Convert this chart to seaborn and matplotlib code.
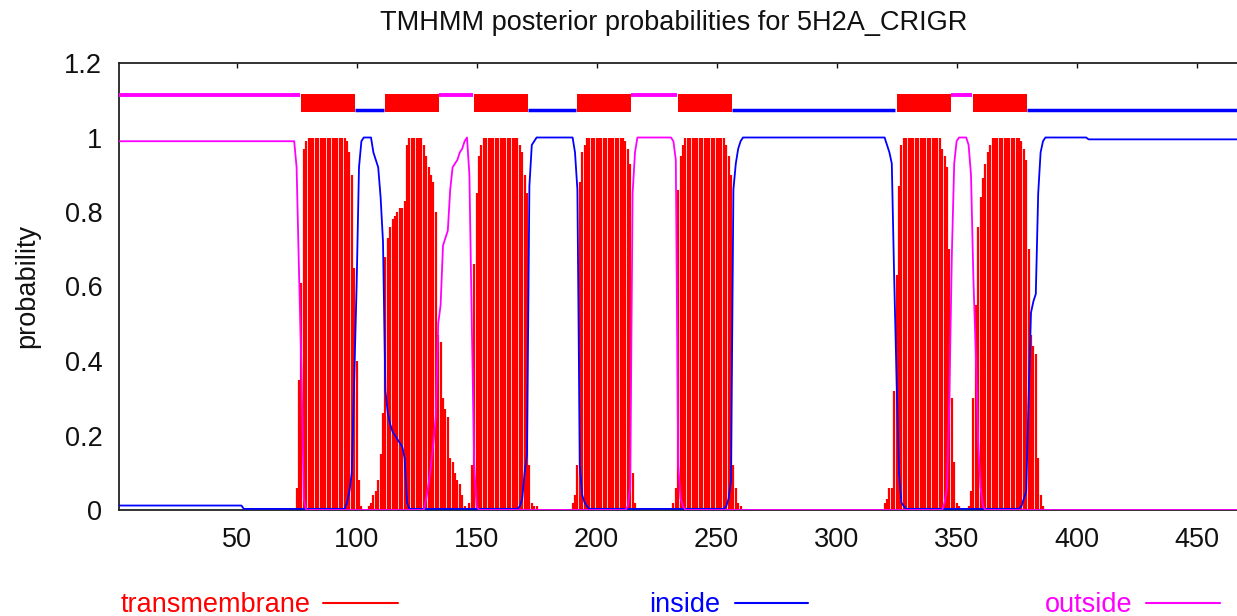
# TMHMM posterior probability plot (5H2A_CRIGR)

import numpy as np
import pandas as pd
import matplotlib
matplotlib.use("Agg")
import matplotlib.pyplot as plt
from matplotlib.lines import Line2D
import seaborn as sns

sns.set_style("white")
plt.rcParams['font.family'] = ['Liberation Sans', 'DejaVu Sans']

# Data (per residue; long flat runs written as repeats)

seq_length = 471

tm_prob = ([0.0]*74 +
           [0.06, 0.35, 0.61, 0.97, 0.99] +
           [1.0]*16 +
           [0.99, 0.96, 0.90, 0.65, 0.40, 0.08, 0.01] +
           [0.0]*2 +
           [0.01, 0.02, 0.04, 0.05, 0.08, 0.15, 0.26, 0.68, 0.73, 0.76, 0.78,
            0.79, 0.80, 0.81, 0.81, 0.83, 0.98] +
           [1.0]*6 +
           [0.98, 0.95, 0.92, 0.90, 0.88, 0.80, 0.47, 0.45, 0.30, 0.27, 0.25,
            0.14, 0.13, 0.10, 0.08, 0.07, 0.04, 0.01] +
           [0.0, 0.02, 0.12, 0.66, 0.85, 0.95, 0.98] +
           [1.0]*15 +
           [0.98, 0.96, 0.90, 0.85, 0.12, 0.02, 0.01, 0.01] +
           [0.0]*14 +
           [0.02, 0.04, 0.12, 0.88, 0.96, 0.98] +
           [1.0]*16 +
           [0.99, 0.97, 0.93, 0.10, 0.02] +
           [0.0]*15 +
           [0.02, 0.06, 0.86, 0.95, 0.98] +
           [1.0]*17 +
           [0.98, 0.95, 0.90, 0.12, 0.06, 0.02, 0.01] +
           [0.0]*59 +
           [0.02, 0.03, 0.06, 0.06, 0.32, 0.63, 0.87, 0.98] +
           [1.0]*16 +
           [0.97, 0.95, 0.92, 0.70, 0.30, 0.13, 0.02, 0.01] +
           [0.0]*3 +
           [0.01, 0.05, 0.30, 0.55, 0.76, 0.84, 0.89, 0.93, 0.96, 0.98] +
           [1.0]*12 +
           [0.99, 0.97, 0.94, 0.70, 0.47, 0.44, 0.42, 0.14, 0.04, 0.01] +
           [0.0]*85)

inside_prob = ([0.012]*52 +
               [0.003]*43 +
               [0.02, 0.05, 0.10, 0.35, 0.60, 0.92, 0.99] +
               [1.0]*4 +
               [0.96, 0.94, 0.92, 0.84, 0.72, 0.32, 0.26, 0.23, 0.21, 0.20,
                0.19, 0.18, 0.17, 0.14, 0.02] +
               [0.003]*46 +
               [0.01, 0.03, 0.10, 0.15, 0.87, 0.98, 0.99] +
               [1.0]*16 +
               [0.96, 0.86, 0.12, 0.04, 0.02, 0.01] +
               [0.003]*57 +
               [0.01, 0.03, 0.08, 0.86, 0.93, 0.97, 0.99] +
               [1.0]*60 +
               [0.98, 0.96, 0.93, 0.62, 0.35, 0.10, 0.02, 0.01] +
               [0.003]*48 +
               [0.01, 0.03, 0.05, 0.30, 0.53, 0.56, 0.58, 0.85, 0.96, 0.99] +
               [1.0]*18 +
               [0.995]*67)

outside_prob = ([0.99]*74 +
                [0.92, 0.64, 0.38, 0.03] +
                [0.0]*50 +
                [0.03, 0.07, 0.12, 0.18, 0.25, 0.50, 0.55, 0.71, 0.73, 0.75,
                 0.86, 0.92, 0.93, 0.94, 0.96, 0.97, 0.99, 1.0, 0.90, 0.50,
                 0.12, 0.01] +
                [0.0]*62 +
                [0.01, 0.06, 0.85, 0.96] +
                [1.0]*15 +
                [0.99, 0.94, 0.12, 0.03, 0.01] +
                [0.0]*108 +
                [0.02, 0.06, 0.30, 0.68, 0.93, 0.99] +
                [1.0]*4 +
                [0.98, 0.90, 0.62, 0.42, 0.18, 0.06, 0.01] +
                [0.0]*110)

# predicted topology (o = outside, M = transmembrane, i = inside)
seg_start = [1, 77, 100, 112, 135, 149, 172, 192, 215, 234, 257, 325, 348, 357, 380]
seg_end = [76, 99, 111, 134, 148, 171, 191, 214, 233, 256, 324, 347, 356, 379, 471]
seg_kind = ['o', 'M', 'i', 'M', 'o', 'M', 'i', 'M', 'o', 'M', 'i', 'M', 'o', 'M', 'i']

x_ticks = [50, 100, 150, 200, 250, 300, 350, 400, 450]
y_ticks = [0, 0.2, 0.4, 0.6, 0.8, 1.0, 1.2]
y_tick_labels = ['0', '0.2', '0.4', '0.6', '0.8', '1', '1.2']

assert len(tm_prob) == seq_length
assert len(inside_prob) == seq_length
assert len(outside_prob) == seq_length

df = pd.DataFrame({"residue": np.arange(1, seq_length + 1),
                   "transmembrane": tm_prob,
                   "inside": inside_prob,
                   "outside": outside_prob})

RED = '#ff0000'
BLUE = '#0000ff'
MAGENTA = '#ff00ff'
FS = 19.5

# Plot

fig = plt.figure(figsize=(12.37, 6.16), dpi=100)
ax = fig.add_axes([119/1237, 106/616, 1128/1237, 447/616])

ax.vlines(df["residue"], 0, df["transmembrane"], color=RED, lw=1.6, zorder=2)
sns.lineplot(data=df, x="residue", y="inside", color=BLUE, lw=1.3, ax=ax, zorder=3)
sns.lineplot(data=df, x="residue", y="outside", color=MAGENTA, lw=1.3, ax=ax, zorder=4)

# topology bar on top
for s, e, k in zip(seg_start, seg_end, seg_kind):
    if k == 'M':
        ax.fill_between([s, e + 0.5], 1.069, 1.116, color=RED, lw=0, zorder=3)
    elif k == 'o':
        ax.plot([s - 0.5, e + 0.3], [1.115, 1.115], color=MAGENTA, lw=2.8,
                solid_capstyle='butt', zorder=3)
    else:
        ax.plot([s - 0.5, e + 0.3], [1.073, 1.073], color=BLUE, lw=2.5,
                solid_capstyle='butt', zorder=3)

ax.set_xlim(1, seq_length)
ax.set_ylim(0, 1.2)
ax.set_xticks(x_ticks)
ax.set_yticks(y_ticks)
ax.set_yticklabels(y_tick_labels)
ax.set_xlabel("")
ax.set_ylabel("")
ax.tick_params(direction='in', length=3.6, width=1, top=True, right=True,
               labelsize=FS, pad=12, colors='#111111')

for sp in ax.spines.values():
    sp.set_linewidth(1.3)
    sp.set_color('#222222')

# texts
fig.text(674/1237, 1 - 23/616, "TMHMM posterior probabilities for 5H2A_CRIGR",
         ha='center', va='center', fontsize=FS, color='#111111')
fig.text(27/1237, 1 - 286/616, "probability", rotation=90,
         ha='center', va='center', fontsize=FS, color='#111111')

# legend at the bottom
legend_items = [("transmembrane", RED, 311, 323, 398),
                ("inside", BLUE, 720, 735, 808),
                ("outside", MAGENTA, 1132, 1146, 1220)]
for label, col, tx, l0, l1 in legend_items:
    fig.text(tx/1237, 1 - 612/616, label, ha='right', va='baseline',
             fontsize=FS, color=col)
    fig.add_artist(Line2D([l0/1237, l1/1237], [1 - 603/616, 1 - 603/616],
                          color=col, lw=1.5, transform=fig.transFigure))

plt.savefig("out.png", dpi=100)
